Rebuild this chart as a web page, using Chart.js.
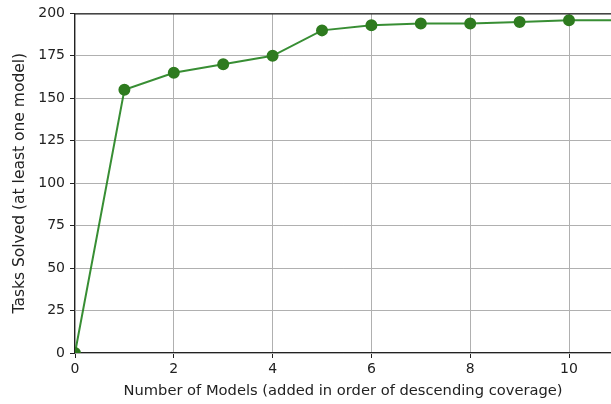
<!DOCTYPE html>
<html>
<head>
<meta charset="utf-8">
<script src="https://cdn.jsdelivr.net/npm/chart.js@4.4.1/dist/chart.umd.min.js"></script>
<style>
    html, body { margin: 0; padding: 0; background: #fff; }
    #wrap { width: 611px; height: 404px; position: relative; }
</style>
</head>
<body>
<div id="wrap"><canvas id="coverageChart"></canvas></div>
<script>
// Cumulative tasks solved as models are added
const modelCounts = [0, 1, 2, 3, 4, 5, 6, 7, 8, 9, 10, 11];
const tasksSolved = [0, 155, 165, 170, 175, 190, 193, 194, 194, 195, 196, 196];

const xTitle = 'Number of Models (added in order of descending coverage)';
const yTitle = 'Tasks Solved (at least one model)';

const tickFont = { family: 'DejaVu Sans', size: 14 };
const titleFont = { family: 'DejaVu Sans', size: 14.7 };

// draws the top spine along the chart area
const topSpine = {
    id: 'topSpine',
    afterDraw(chart) {
        const { ctx, chartArea } = chart;
        ctx.save();
        ctx.strokeStyle = '#222';
        ctx.lineWidth = 1.1;
        ctx.beginPath();
        ctx.moveTo(chartArea.left, chartArea.top + 0.5);
        ctx.lineTo(chartArea.right, chartArea.top + 0.5);
        ctx.stroke();
        ctx.restore();
    }
};

const ctx = document.getElementById('coverageChart').getContext('2d');
new Chart(ctx, {
    type: 'line',
    data: {
        datasets: [{
            data: modelCounts.map((m, i) => ({ x: m, y: tasksSolved[i] })),
            borderColor: 'rgba(34, 130, 30, 0.9)',
            backgroundColor: '#2e7b1f',
            pointBackgroundColor: '#2e7b1f',
            pointBorderColor: '#2e7b1f',
            pointRadius: 5,
            borderWidth: 2,
            tension: 0,
            fill: false
        }]
    },
    options: {
        responsive: true,
        maintainAspectRatio: false,
        animation: false,
        layout: { autoPadding: false, padding: { top: 11, right: 0, left: 0, bottom: 0 } },
        plugins: {
            legend: { display: false },
            tooltip: { enabled: false }
        },
        scales: {
            x: {
                type: 'linear',
                min: 0,
                max: 10.85,
                afterFit(scale) { scale.height = 51; },
                ticks: {
                    stepSize: 2,
                    includeBounds: false,
                    color: '#222',
                    font: tickFont,
                    padding: 3,
                    maxRotation: 0
                },
                grid: {
                    color: '#b0b0b0',
                    tickColor: '#222',
                    tickLength: 5,
                    lineWidth: 1
                },
                border: { color: '#222', width: 1.1 },
                title: {
                    display: true,
                    text: xTitle,
                    color: '#222',
                    font: titleFont,
                    padding: { top: 2, bottom: 4 }
                }
            },
            y: {
                min: 0,
                max: 200,
                afterFit(scale) { scale.width = 75; },
                ticks: {
                    stepSize: 25,
                    color: '#222',
                    font: tickFont,
                    padding: 5
                },
                grid: {
                    color: '#b0b0b0',
                    tickColor: '#222',
                    tickLength: 5,
                    lineWidth: 1
                },
                border: { color: '#222', width: 1.1 },
                title: {
                    display: true,
                    text: yTitle,
                    color: '#222',
                    font: { family: 'DejaVu Sans', size: 15.5 },
                    padding: { top: 11, bottom: 4 }
                }
            }
        }
    },
    plugins: [topSpine]
});
</script>
</body>
</html>
